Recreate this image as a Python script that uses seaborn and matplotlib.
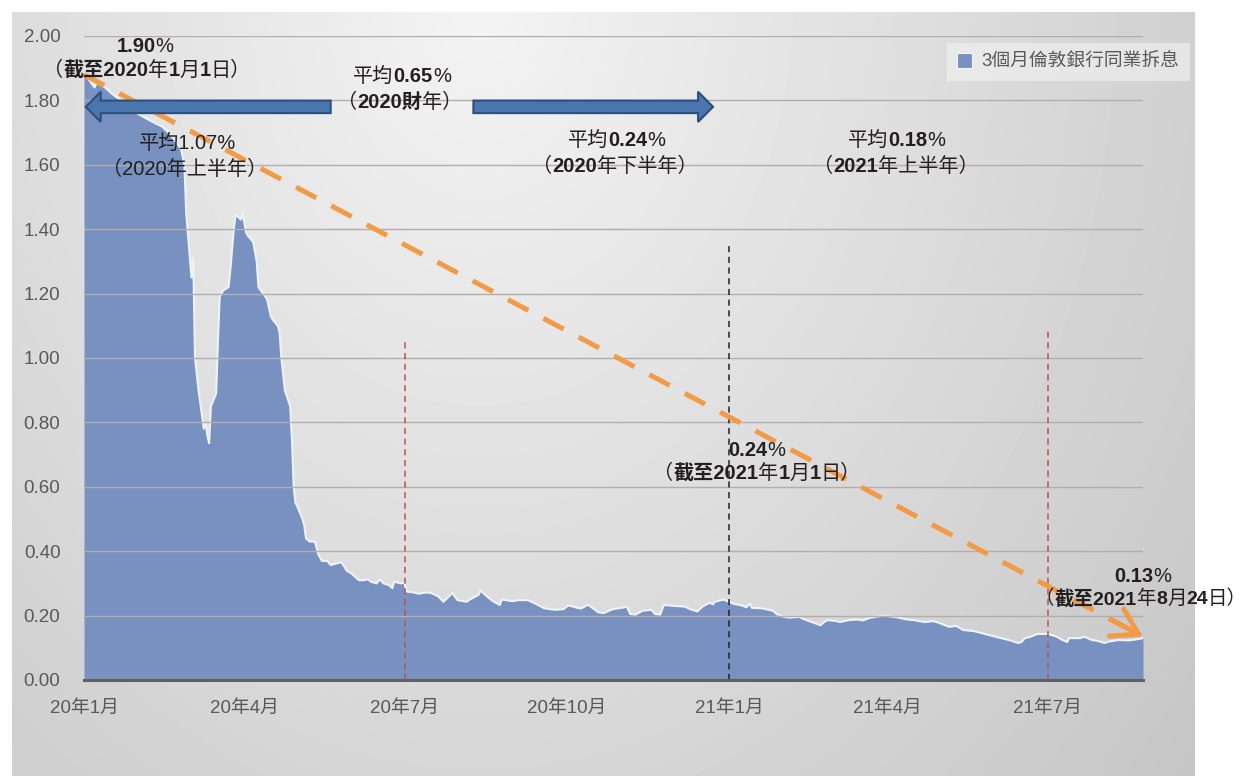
import numpy as np
import pandas as pd
import matplotlib
matplotlib.use('Agg')
import matplotlib.pyplot as plt
from matplotlib.patches import FancyArrow, Patch
from matplotlib.offsetbox import TextArea, HPacker, AnnotationBbox
import matplotlib.dates as mdates
import seaborn as sns

# 3個月倫敦銀行同業拆息 (讀自原圖，約略數值)
dates_q1 = ['2020-01-01', '2020-01-03', '2020-01-07', '2020-01-08', '2020-01-13', '2020-01-17',
            '2020-01-22', '2020-01-27', '2020-01-31', '2020-02-05', '2020-02-10', '2020-02-14',
            '2020-02-18', '2020-02-21', '2020-02-25', '2020-02-27', '2020-02-28', '2020-03-02',
            '2020-03-03', '2020-03-04', '2020-03-06', '2020-03-09', '2020-03-10', '2020-03-11',
            '2020-03-12', '2020-03-13', '2020-03-16', '2020-03-17', '2020-03-18', '2020-03-19',
            '2020-03-20', '2020-03-23', '2020-03-24', '2020-03-25', '2020-03-26', '2020-03-27',
            '2020-03-30', '2020-03-31']
libor_q1 = [1.88, 1.87, 1.84, 1.855, 1.84, 1.82,
            1.80, 1.79, 1.76, 1.745, 1.73, 1.72,
            1.70, 1.68, 1.65, 1.60, 1.45, 1.25,
            1.31, 1.00, 0.90, 0.78, 0.80, 0.76,
            0.735, 0.85, 0.89, 1.05, 1.19, 1.20,
            1.21, 1.22, 1.27, 1.335, 1.40, 1.445,
            1.43, 1.45]

dates_q2 = ['2020-04-01', '2020-04-02', '2020-04-03', '2020-04-06', '2020-04-07', '2020-04-08',
            '2020-04-09', '2020-04-13', '2020-04-14', '2020-04-16', '2020-04-17', '2020-04-20',
            '2020-04-21', '2020-04-22', '2020-04-23', '2020-04-24', '2020-04-27', '2020-04-28',
            '2020-04-29', '2020-04-30', '2020-05-01', '2020-05-04', '2020-05-05', '2020-05-06',
            '2020-05-08', '2020-05-11', '2020-05-12', '2020-05-13', '2020-05-15', '2020-05-18',
            '2020-05-20', '2020-05-22', '2020-05-26', '2020-05-28', '2020-05-29', '2020-06-01',
            '2020-06-03', '2020-06-05', '2020-06-08', '2020-06-10', '2020-06-12', '2020-06-15',
            '2020-06-17', '2020-06-19', '2020-06-22', '2020-06-24', '2020-06-25', '2020-06-29',
            '2020-06-30']
libor_q2 = [1.42, 1.39, 1.38, 1.36, 1.33, 1.30,
            1.22, 1.19, 1.18, 1.13, 1.12, 1.10,
            1.08, 1.00, 0.95, 0.90, 0.85, 0.75,
            0.60, 0.55, 0.54, 0.50, 0.48, 0.44,
            0.43, 0.43, 0.41, 0.39, 0.37, 0.37,
            0.357, 0.36, 0.366, 0.35, 0.34, 0.33,
            0.32, 0.31, 0.31, 0.313, 0.305, 0.30,
            0.313, 0.30, 0.295, 0.285, 0.305, 0.30,
            0.302]

dates_h2 = ['2020-07-01', '2020-07-02', '2020-07-06', '2020-07-09', '2020-07-13', '2020-07-16',
            '2020-07-20', '2020-07-23', '2020-07-28', '2020-07-31', '2020-08-05', '2020-08-07',
            '2020-08-12', '2020-08-13', '2020-08-17', '2020-08-20', '2020-08-24', '2020-08-25',
            '2020-08-31', '2020-09-04', '2020-09-09', '2020-09-14', '2020-09-18', '2020-09-24',
            '2020-09-29', '2020-10-02', '2020-10-07', '2020-10-09', '2020-10-13', '2020-10-19',
            '2020-10-22', '2020-10-27', '2020-11-02', '2020-11-04', '2020-11-06', '2020-11-09',
            '2020-11-13', '2020-11-18', '2020-11-20', '2020-11-23', '2020-11-25', '2020-12-01',
            '2020-12-07', '2020-12-10', '2020-12-14', '2020-12-17', '2020-12-21', '2020-12-23',
            '2020-12-24', '2020-12-29', '2020-12-31']
libor_h2 = [0.30, 0.275, 0.272, 0.268, 0.272, 0.27,
            0.26, 0.243, 0.27, 0.248, 0.243, 0.25,
            0.265, 0.278, 0.258, 0.245, 0.233, 0.25,
            0.245, 0.248, 0.248, 0.235, 0.223, 0.218,
            0.22, 0.232, 0.224, 0.222, 0.234, 0.21,
            0.208, 0.22, 0.225, 0.228, 0.205, 0.203,
            0.215, 0.218, 0.205, 0.203, 0.233, 0.23,
            0.228, 0.22, 0.213, 0.228, 0.24, 0.235,
            0.243, 0.25, 0.245]

dates_2021 = ['2021-01-04', '2021-01-08', '2021-01-11', '2021-01-13', '2021-01-14', '2021-01-19',
              '2021-01-22', '2021-01-26', '2021-01-28', '2021-02-01', '2021-02-05', '2021-02-10',
              '2021-02-12', '2021-02-17', '2021-02-22', '2021-02-24', '2021-02-26', '2021-03-03',
              '2021-03-05', '2021-03-10', '2021-03-15', '2021-03-18', '2021-03-22', '2021-03-25',
              '2021-03-30', '2021-04-06', '2021-04-12', '2021-04-16', '2021-04-22', '2021-04-27',
              '2021-04-30', '2021-05-06', '2021-05-10', '2021-05-14', '2021-05-20', '2021-05-27',
              '2021-06-03', '2021-06-09', '2021-06-14', '2021-06-16', '2021-06-18', '2021-06-21',
              '2021-06-25', '2021-07-01', '2021-07-06', '2021-07-09', '2021-07-12', '2021-07-13',
              '2021-07-19', '2021-07-22', '2021-07-26', '2021-07-29', '2021-08-02', '2021-08-05',
              '2021-08-10', '2021-08-16', '2021-08-20', '2021-08-24']
libor_2021 = [0.236, 0.232, 0.226, 0.238, 0.224, 0.223,
              0.22, 0.215, 0.205, 0.196, 0.194, 0.196,
              0.19, 0.18, 0.17, 0.18, 0.186, 0.183,
              0.18, 0.186, 0.188, 0.185, 0.193, 0.196,
              0.20, 0.195, 0.188, 0.186, 0.18, 0.183,
              0.178, 0.165, 0.168, 0.155, 0.152, 0.142,
              0.132, 0.124, 0.115, 0.118, 0.13, 0.134,
              0.143, 0.143, 0.135, 0.125, 0.118, 0.13,
              0.13, 0.134, 0.124, 0.122, 0.115, 0.12,
              0.124, 0.123, 0.126, 0.13]

tick_dates = ['2020-01-01', '2020-04-01', '2020-07-01', '2020-10-01',
              '2021-01-01', '2021-04-01', '2021-07-01']
tick_labels = ['20年1月', '20年4月', '20年7月', '20年10月', '21年1月', '21年4月', '21年7月']

# 期間分隔虛線
vline_dates = ['2020-07-01', '2021-01-01', '2021-07-01']
vline_tops = [1.06, 1.36, 1.09]
vline_colors = ['#c0504d', '#222222', '#c0504d']

# 趨勢箭頭 (2020年1月1日 -> 2021年8月24日)
trend_dates = ['2020-01-01', '2021-08-24']
trend_vals = [1.88, 0.135]

df = pd.DataFrame({'date': pd.to_datetime(dates_q1 + dates_q2 + dates_h2 + dates_2021),
                   'libor': libor_q1 + libor_q2 + libor_h2 + libor_2021})

sns.set_style('white')
FAM = ['Liberation Sans', 'Noto Sans CJK TC', 'DejaVu Sans']
plt.rcParams['font.family'] = FAM

W, H = 1246, 776
fig = plt.figure(figsize=(W / 100, H / 100), dpi=100)
fig.patch.set_facecolor('white')

# 灰色漸層背景
bg = fig.add_axes([12 / W, 0, 1183 / W, 764 / H], zorder=-10)
gx, gy = np.meshgrid(np.linspace(12, 1195, 300), np.linspace(12, 776, 200))
dist = np.sqrt(((gx - 480) / 1183 * 1.2) ** 2 + ((gy - 0) / 764 * 0.6) ** 2)
shade = np.clip(0.955 - 0.19 * dist, 0, 1)
bg.imshow(shade, cmap='gray', vmin=0, vmax=1, aspect='auto', interpolation='bicubic')
bg.axis('off')

ax = fig.add_axes([84 / W, 1 - 680 / H, 1059 / W, 644 / H])
ax.patch.set_alpha(0)

ax.fill_between(df['date'], df['libor'], color='#7891c0', lw=0, zorder=1)
sns.lineplot(data=df, x='date', y='libor', color='#eef2f9', lw=1.5, ax=ax, zorder=2)

ax.set_xlim(pd.Timestamp('2020-01-01'), pd.Timestamp('2021-08-24'))
ax.set_ylim(0, 2.0)
ax.set_yticks(np.arange(0, 2.01, 0.2))
ax.set_yticklabels([f'{v:.2f}' for v in np.arange(0, 2.01, 0.2)])
ax.set_xticks(pd.to_datetime(tick_dates))
ax.set_xticklabels(tick_labels)
ax.set_xlabel('')
ax.set_ylabel('')

ax.set_axisbelow(False)
ax.yaxis.grid(True, color='#b3aeab', lw=1.0)
ax.xaxis.grid(False)
for s in ['left', 'right', 'top']:
    ax.spines[s].set_visible(False)
ax.spines['bottom'].set_color('#616161')
ax.spines['bottom'].set_linewidth(2.2)
ax.spines['bottom'].set_zorder(5)
ax.tick_params(axis='y', length=0, pad=17, labelsize=13.5, labelcolor='#595959')
ax.tick_params(axis='x', direction='out', length=5, width=2, color='#616161',
               pad=9, labelsize=13.5, labelcolor='#595959')

# 分隔虛線
for d, top, c in zip(vline_dates, vline_tops, vline_colors):
    ax.plot([pd.Timestamp(d)] * 2, [0, top], color=c, lw=1.1,
            ls=(0, (4, 3)), zorder=3)

# 橙色虛線趨勢箭頭
t0, t1 = pd.to_datetime(trend_dates)
ax.plot([t0, t1], trend_vals, color='#f39a47', lw=3.6, ls=(0, (4.6, 3.4)),
        zorder=6, clip_on=False, solid_capstyle='butt')
t_pre = t0 + (t1 - t0) * 0.97
v_pre = trend_vals[0] + (trend_vals[1] - trend_vals[0]) * 0.97
ax.annotate('', xy=(t1, trend_vals[1]), xytext=(t_pre, v_pre),
            arrowprops=dict(arrowstyle='->,head_length=0.9,head_width=0.55',
                            color='#f39a47', lw=3.6, mutation_scale=20,
                            shrinkA=0, shrinkB=0),
            zorder=6, annotation_clip=False)

# 藍色期間箭頭 (2020財年)
def period_arrow(start, end, y):
    x0 = mdates.date2num(pd.Timestamp(start))
    x1 = mdates.date2num(pd.Timestamp(end))
    ax.add_patch(FancyArrow(x0, y, x1 - x0, 0, width=0.039, head_width=0.094,
                            head_length=8.5, length_includes_head=True,
                            fc='#4a76ad', ec='#2d4f7c', lw=1.5, zorder=7))

period_arrow('2020-05-20', '2020-01-02', 1.78)
period_arrow('2020-08-09', '2020-12-23', 1.78)

# 文字標註 (部分粗體)
def rich(px, py, parts, size=14.5):
    boxes = [TextArea(s, textprops=dict(fontsize=size, fontweight=w,
                                        color='#231f20', family=FAM))
             for s, w in parts]
    pack = HPacker(children=boxes, pad=0, sep=0, align='baseline')
    ab = AnnotationBbox(pack, (px, H - py), xycoords='figure pixels',
                        frameon=False, box_alignment=(0.5, 0.5), zorder=8)
    fig.add_artist(ab)

B, N = 'bold', 'normal'
rich(145, 46, [('1.90', B), ('%', N)])
rich(147, 70, [('（', N), ('截至2020', B), ('年', N), ('1', B), ('月', N), ('1', B), ('日）', N)])
rich(402, 76, [('平均', N), ('0.65', B), ('%', N)])
rich(400, 102, [('（', N), ('2020財', B), ('年）', N)])
rich(188, 143, [('平均1.07%', N)])
rich(185, 169, [('（2020年上半年）', N)])
rich(617, 140, [('平均', N), ('0.24', B), ('%', N)])
rich(615, 166, [('（', N), ('2020', B), ('年下半年）', N)])
rich(897, 140, [('平均', N), ('0.18', B), ('%', N)])
rich(896, 166, [('（', N), ('2021', B), ('年上半年）', N)])
rich(757, 450, [('0.24', B), ('%', N)])
rich(757, 473, [('（', N), ('截至2021', B), ('年', N), ('1', B), ('月', N), ('1', B), ('日）', N)])
rich(1143, 577, [('0.13', B), ('%', N)])
rich(1141, 599, [('（', N), ('截至2021', B), ('年', N), ('8', B), ('月', N), ('24', B), ('日）', N)],
     size=14)

handle = Patch(facecolor='#7891c0', edgecolor='#f4f6fa', lw=0.8)
leg = fig.legend([handle], ['3個月倫敦銀行同業拆息'], loc='upper right',
                 bbox_to_anchor=(1190 / W, 1 - 43 / H), frameon=True, fancybox=False,
                 facecolor='#f3f3f3', edgecolor='none', framealpha=0.6,
                 borderpad=0.55, handlelength=0.8, handleheight=0.8,
                 handletextpad=0.5, fontsize=13.5, labelcolor='#595959', borderaxespad=0)

fig.savefig('out.png', dpi=100)
